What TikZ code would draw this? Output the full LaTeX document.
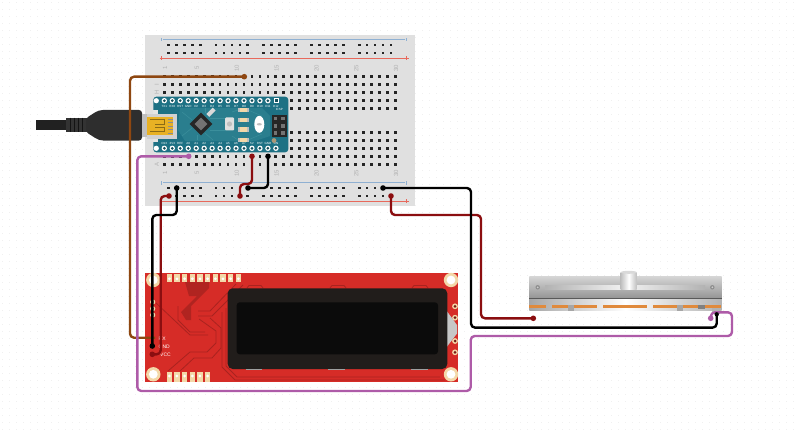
\documentclass[tikz,border=0pt]{standalone}
\usepackage{fontspec}
\setsansfont{Liberation Sans}
\definecolor{boardgray}{HTML}{E0E0E0}
\definecolor{holedark}{HTML}{242424}
\definecolor{railblue}{HTML}{8FB0D2}
\definecolor{railred}{HTML}{E8695C}
\definecolor{nanoteal}{HTML}{1D7184}
\definecolor{nanotrace}{HTML}{3B8F9C}
\definecolor{lcdred}{HTML}{D62C27}
\definecolor{lcdtrace}{HTML}{A9231F}
\definecolor{padcream}{HTML}{F3D8A8}
\definecolor{wirebrown}{HTML}{8E4711}
\definecolor{wirered}{HTML}{8B0E10}
\definecolor{wirepurple}{HTML}{AE5BA8}
\definecolor{padorange}{HTML}{E08A3C}
\definecolor{usbgold}{HTML}{E8B124}
\definecolor{lcdframe}{HTML}{211D1B}
\definecolor{lcdglass}{HTML}{0B0B0B}
\tikzset{
	wire/.style={line width=2.4pt, rounded corners=4pt, line join=round},
	hole/.style={fill=holedark},
	tinytext/.style={font=\sffamily\fontsize{3}{3}\selectfont, text=white, inner sep=0pt},
	boardtext/.style={font=\sffamily\fontsize{6}{6}\selectfont, text=black!30, inner sep=0pt, rotate=90},
	lcdtext/.style={font=\sffamily\fontsize{5}{5}\selectfont, text=white, inner sep=0pt, anchor=west},
	lcdline/.style={lcdtrace, line width=0.8pt, line join=round},
}

\begin{document}
\begin{tikzpicture}[x=1pt, y=-1pt]
		\useasboundingbox (0, 0) rectangle (800, 433);
		%%%%% BACKGROUND %%%%%
		\foreach \i in {0,...,114}
			\foreach \j in {0,...,61}
				\fill[black!6] ({2.5+7*\i-0.5}, {2.5+7*\j-0.5}) rectangle ++(1, 1);
		
		%%%%% BREADBOARD %%%%%
		\fill[boardgray] (145.3, 35) rectangle (415.3, 206);
		\draw[railblue, line width=1pt] (163, 39.7) -- (405, 39.7);
		\draw[railblue, line width=1pt] (161.7, 38) -- (161.7, 41.5) (406.5, 38) -- (406.5, 41.5);
		\draw[railred, line width=1pt] (163, 58.3) -- (405, 58.3);
		\draw[railblue, line width=1pt] (163, 182.7) -- (405, 182.7);
		\draw[railblue, line width=1pt] (161.7, 181) -- (161.7, 184.5) (406.5, 181) -- (406.5, 184.5);
		\draw[railred, line width=1pt] (163, 201) -- (405, 201);
		\foreach \y in {58.3, 201} {
			\draw[railred, line width=0.7pt] (159.7, \y) -- (163.7, \y) (161.7, \y-2) -- (161.7, \y+2);
			\draw[railred, line width=0.7pt] (404.5, \y) -- (408.5, \y) (406.5, \y-2) -- (406.5, \y+2);
		}
		\foreach \y in {76.7, 84.7, 92.7, 100.7, 108.7, 132.3, 140.3, 148.3, 156.3, 164.3}
			\foreach \c in {0,...,29}
				\fill[hole] ({164.3+7.97*\c-1.4}, {\y-1.4}) rectangle ++(2.8, 2.8);
		\foreach \y in {45, 53, 188, 196}
			\foreach \g in {0,...,4}
				\foreach \c in {0,...,4}
					\fill[hole] ({168.3+47.7*\g+7.97*\c-1.4}, {\y-1.4}) rectangle ++(2.8, 2.8);
		\foreach \n/\c in {1/0, 5/4, 10/9, 15/14, 20/19, 25/24, 30/29} {
			\node[boardtext] (top\n) at ({165+7.97*\c}, 68.3) {\n};
			\node[boardtext] (bottom\n) at ({165+7.97*\c}, 173.3) {\n};
		}
		\node[boardtext] (rowI) at (156.7, 84.7) {I};
		\node[boardtext] (rowH) at (156.7, 92.7) {H};
		\node[boardtext] (rowA) at (156.7, 164.3) {A};
		
		%%%%% NANO %%%%%
		\fill[nanoteal, rounded corners=3pt] (153.3, 96.7) rectangle (288.3, 152.3);
		\fill[nanotrace, opacity=0.45] (180, 108) -- (262, 108) -- (270, 116) -- (270, 136) -- (255, 141) -- (185, 141) -- (178, 130) -- cycle;
		\foreach \a/\b/\c/\d in {182/112/192/120, 182/136/192/128, 210/118/226/118, 210/130/226/130, 205/108/205/113, 197/140/197/135, 213/140/205/133, 232/112/238/110, 232/136/238/140, 248/110/262/116, 248/140/262/134}
			\draw[nanotrace, line width=0.5pt] (\a, \b) -- (\c, \d);
		\fill[white] (156.3, 100.7) circle (2.6);
		\fill[white] (156.3, 148.3) circle (2.6);
		\foreach \c in {0,...,13} {
			\fill[white] ({164.3+7.97*\c}, 100.7) circle (2.7);
			\fill[nanoteal!70!black] ({164.3+7.97*\c}, 100.7) circle (1.5);
		}
		\fill[white] (274, 98) rectangle (279.4, 103.4);
		\fill[nanoteal!70!black] (275.2, 99.2) rectangle (278.2, 102.2);
		\foreach \c in {0,...,14} {
			\fill[white] ({164.3+7.97*\c}, 148.3) circle (2.7);
			\fill[nanoteal!70!black] ({164.3+7.97*\c}, 148.3) circle (1.5);
		}
		\foreach \n [count=\c from 0] in {TX1, RX0, RST, GND, D2, D3, D4, D5, D6, D7, D8, D9, D10, D11, D12}
			\node[tinytext] (pintop\c) at ({164.3+7.97*\c}, 106) {\n};
		\foreach \n [count=\c from 0] in {D13, 3V3, REF, A0, A1, A2, A3, A4, A5, A6, A7, 5V, RST, GND, VIN}
			\node[tinytext] (pinbottom\c) at ({164.3+7.97*\c}, 143.4) {\n};
		% chip, button, crystal
		\fill[black!85, rotate around={45:(201, 124)}] (193, 116) rectangle (209, 132);
		\fill[black!55, rotate around={45:(201, 124)}] (196.5, 119.5) rectangle (205.5, 128.5);
		\fill[white!85!black, rotate around={45:(211, 112.3)}] (206.5, 110.3) rectangle (215.5, 114.3);
		\fill[white!88!black, rounded corners=1pt] (225, 117.5) rectangle (234, 130.5);
		\fill[black!25] (229.5, 124) circle (2.6);
		\fill[white] (259.3, 124.3) ellipse (5 and 8.5);
		\fill[black!25] (259.3, 124.3) ellipse (2.5 and 1.2);
		\foreach \y in {110, 120, 129.3, 140} {
			\fill[white!75!black] (237.5, {\y-2.4}) rectangle (249, {\y+2.4});
			\fill[padcream] (239.5, {\y-2.4}) rectangle (247, {\y+2.4});
		}
		\node[tinytext] (icsp) at (279.3, 109.6) {ICSP};
		\fill[black!85] (271.7, 114.7) rectangle (286.7, 136.7);
		\foreach \a in {275.5, 283}
			\foreach \b in {118.5, 125.7, 133}
				\fill[black!55] ({\a-1.9}, {\b-1.9}) rectangle ++(3.8, 3.8);
		\fill[padcream!70!black] (274, 140.5) circle (2.4);
		
		%%%%% USB %%%%%
		\fill[black!87] (36, 120.2) rectangle (67, 130);
		\fill[black!80] (66, 117.7) rectangle (88, 132.5);
		\foreach \x in {70, 74, 78, 82}
			\draw[black!92, line width=0.9pt] (\x, 117.7) -- (\x, 132.5);
		\fill[black!82, rounded corners=3pt] (86, 118) .. controls (93, 114) and (97, 110) .. (106, 110) -- (142, 110) -- (142, 140.5) -- (106, 140.5) .. controls (97, 140.5) and (93, 136) .. (86, 132.5) -- cycle;
		\fill[black!25] (142, 114) rectangle (147, 137);
		\fill[black!18] (147, 113.7) rectangle (177, 138.7);
		\fill[black!10] (153, 110.5) rectangle (158, 114);
		\fill[black!10] (153, 138.7) rectangle (158, 142);
		\fill[usbgold] (147, 117) rectangle (173, 135);
		\draw[usbgold!60!black, line width=1pt] (150, 120) -- (164, 120) -- (164, 124.5) -- (155, 124.5) (150, 132) -- (164, 132) -- (164, 127.5) -- (155, 127.5);
		\foreach \y in {119, 122.5, 126, 129.5, 133}
			\draw[black!45, line width=0.7pt] (168, \y) -- (173, \y);
		
		%%%%% LCD %%%%%
		\fill[lcdred] (145.3, 273.3) rectangle (458.3, 382.3);
		% traces
		\fill[lcdtrace!85!lcdred] (185, 282) -- (209, 282) -- (209, 288) -- (191, 306) -- (191, 320) -- (186, 320) -- (181, 312) -- (197, 296) -- (189, 296) -- cycle;
		\draw[lcdline] (156, 303) -- (190, 335) -- (208, 335);
		\draw[lcdline] (168, 371) -- (190, 352) -- (207, 352) -- (216, 343) -- (216, 331) -- (199, 319);
		\draw[lcdline] (180, 371) -- (194, 358) -- (212, 358) -- (221, 348) -- (221, 328) -- (210, 318);
		\draw[lcdline] (178, 306) -- (178, 320) -- (190, 332) -- (205, 332);
		\draw[lcdline] (198, 311) -- (210, 311) -- (236, 284);
		\draw[lcdline] (198, 316) -- (212, 316) -- (243, 285);
		\draw[lcdline] (226, 308) -- (226, 366) -- (237, 377) -- (440, 377);
		\draw[lcdline] (222, 312) -- (222, 367) -- (235, 380) -- (445, 380);
		\foreach \a in {247, 330, 412}
			\draw[lcdline] (\a, 288) -- (\a+2, 285.5) -- (\a+14, 285.5) -- (\a+16, 288);
		\foreach \i in {0,...,9} {
			\fill[padcream] ({166.5+7.67*\i}, 273.5) rectangle ++(5.6, 8.5);
			\fill[white] ({169.3+7.67*\i}, 278.8) circle (1.5);
		}
		\foreach \i in {0,...,5} {
			\fill[padcream] ({166.5+7.67*\i}, 372) rectangle ++(5.6, 10);
			\fill[white] ({169.3+7.67*\i}, 376) circle (1.5);
		}
		\foreach \a/\b in {153.3/280, 451/280, 153.3/374.3, 451/374.3} {
			\fill[padcream] (\a, \b) circle (7.2);
			\fill[white] (\a, \b) circle (4.4);
		}
		\foreach \b in {302, 308.7, 315} {
			\fill[padcream] (152.7, \b) circle (2.6);
			\fill[lcdtrace!70!black] (152.7, \b) circle (1.1);
		}
		\foreach \b in {306.3, 317.7, 341, 352.3} {
			\fill[padcream] (455, \b) circle (2.9);
			\fill[lcdtrace!70!black] (455, \b) circle (1.5);
		}
		\fill[black!22] (446, 310) -- (457, 325) -- (457, 333.5) -- (446, 348) -- cycle;
		\foreach \a in {245.5, 328, 411}
			\fill[black!30] (\a, 367) rectangle ++(16.5, 3.2);
		\fill[lcdframe, rounded corners=5pt] (227.7, 288.3) rectangle (447.3, 369);
		\fill[lcdglass, rounded corners=3pt] (236.7, 302.3) rectangle (438, 354.3);
		\node[lcdtext] (lcdrx) at (158.5, 338.3) {RX};
		\node[lcdtext] (lcdgnd) at (158.5, 346.5) {GND};
		\node[lcdtext] (lcdvcc) at (160, 354.5) {VCC};
		
		%%%%% SLIDER %%%%%
		\shade[top color=black!16, bottom color=black!42] (529.3, 276) rectangle (721.7, 298.3);
		\shade[left color=black!30, right color=black!30, middle color=white!95!black] (545, 285) rectangle (705, 289);
		\fill[black!45] (537.7, 287.3) circle (2.2);
		\fill[white!80!black] (537.7, 287.3) circle (1);
		\fill[black!45] (712.3, 287.3) circle (2.2);
		\fill[white!80!black] (712.3, 287.3) circle (1);
		\shade[left color=black!25, right color=black!25, middle color=white] (620.7, 272.3) rectangle (636.7, 289);
		\fill[black!15] (628.7, 272.3) ellipse (8 and 1.5);
		\shade[left color=black!35, right color=black!30, middle color=white] (529.3, 298.3) rectangle (721.7, 310);
		\draw[black!65, line width=0.8pt] (529.3, 298.3) -- (721.7, 298.3);
		\foreach \a/\b in {529.3/546, 552.3/567.7, 574/597.3, 603.3/646.7, 653.3/676.7, 683.3/698.3, 705/721}
			\fill[padorange] (\a, 305) rectangle (\b, 307.7);
		\fill[black!35] (567.7, 305) rectangle (574, 311);
		\fill[black!35] (676.7, 305) rectangle (683.3, 311);
		\fill[black!50] (698.3, 304.5) rectangle (705, 308.5);
		\fill[black!30] (711.7, 308) rectangle (720, 313.5);
		
		%%%%% WIRES %%%%%
		\coordinate (holeBrown) at (244.3, 76.7);
		\coordinate (pinRx) at (155, 337.7);
		\coordinate (holeWiper) at (188.7, 156.3);
		\coordinate (slideWiper) at (710.7, 318.3);
		\coordinate (holeGnd) at (176.7, 188);
		\coordinate (pinGnd) at (152.3, 346);
		\coordinate (holeVcc) at (169, 196);
		\coordinate (pinVcc) at (152.3, 354.3);
		\coordinate (nanoFive) at (252, 156.3);
		\coordinate (railFive) at (240, 196);
		\coordinate (nanoGnd) at (268, 156.3);
		\coordinate (railGnd) at (248, 188);
		\coordinate (holeBlack) at (383, 188);
		\coordinate (slideGnd) at (716.7, 314.3);
		\coordinate (holeRed) at (391, 196);
		\coordinate (slideFive) at (533.3, 318.3);
		
		\draw[wire, wirebrown] (holeBrown) -- (130, 76.7) -- (130, 337.7) -- (pinRx);
		\fill[wirebrown] (holeBrown) circle (2.8);
		\draw[wire, wirepurple] (holeWiper) -- (137.3, 156.3) -- (137.3, 391) -- (470.7, 391) -- (470.7, 336) -- (732, 336) -- (732, 312.3) -- (711, 312.3) -- (slideWiper);
		\fill[wirepurple] (holeWiper) circle (2.8);
		\fill[wirepurple] (slideWiper) circle (2.8);
		\draw[wire, wirered] (holeVcc) -- (160.7, 196) -- (160.7, 354.3) -- (pinVcc);
		\fill[wirered] (holeVcc) circle (2.8);
		\fill[wirered] (pinVcc) circle (2.8);
		\draw[wire, black] (holeGnd) -- (176.7, 215) -- (152.3, 215) -- (pinGnd);
		\fill (holeGnd) circle (2.8);
		\fill (pinGnd) circle (2.8);
		\draw[wire, wirered] (nanoFive) -- (252, 184) -- (240, 184) -- (railFive);
		\fill[wirered] (nanoFive) circle (2.8);
		\fill[wirered] (railFive) circle (2.8);
		\draw[wire, black] (nanoGnd) -- (268, 188) -- (railGnd);
		\fill (nanoGnd) circle (2.8);
		\fill (railGnd) circle (2.8);
		\draw[wire, wirered] (holeRed) -- (391, 215) -- (481, 215) -- (481, 318.3) -- (slideFive);
		\fill[wirered] (holeRed) circle (2.8);
		\fill[wirered] (slideFive) circle (2.8);
		\draw[wire, black] (holeBlack) -- (471, 188) -- (471, 327.6) -- (716.7, 327.6) -- (slideGnd);
		\fill (holeBlack) circle (2.8);
		\fill (slideGnd) circle (2.2);
		%%%%% END %%%%%
	\end{tikzpicture}
\end{document}
